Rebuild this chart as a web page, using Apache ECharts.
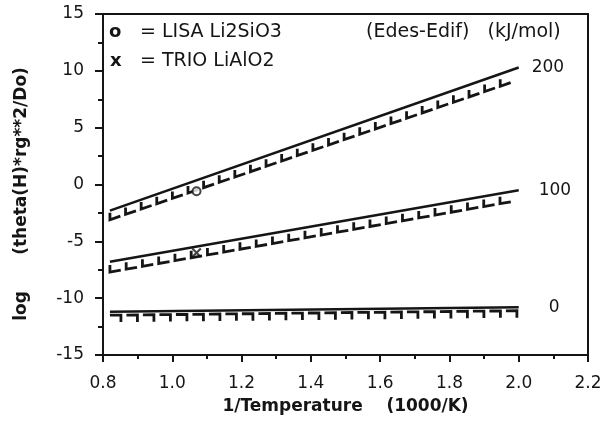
<!DOCTYPE html>
<html>
<head>
<meta charset="utf-8">
<script src="https://cdn.jsdelivr.net/npm/echarts@6/dist/echarts.min.js"></script>
<style>
  html, body { margin: 0; padding: 0; background: #fff; }
  #chart { width: 607px; height: 422px; }
</style>
</head>
<body>
<div id="chart"></div>
<script>
// solid lines (start, end) per Edes-Edif value
const energyLabels = ['200', '100', '0']
const labelGaps = [13, 20, 30]
const solidLines = [
  [[0.82, -2.3], [2.0, 10.3]],
  [[0.82, -6.8], [2.0, -0.5]],
  [[0.82, -11.2], [2.0, -10.8]]
]
// hooked dashed lines: x0, y0, x1, y1, hook direction (1 = up, -1 = down)
const hookedLines = [
  [0.82, -3.1, 2.0, 9.2, 1],
  [0.82, -7.7, 2.0, -1.4, 1],
  [0.82, -11.5, 2.0, -11.1, -1]
]
const lisaPoints = [[1.07, -0.6]]
const trioPoints = [[1.07, -6.0]]
const xTicks = { min: 0.8, max: 2.2, interval: 0.2, minor: 0.1 }
const yTicks = { min: -15, max: 15, interval: 5, minor: 2.5 }

const ink = '#151515'
const font = '"DejaVu Sans", Verdana, sans-serif'

let chart = echarts.init(document.getElementById('chart'), null, { renderer: 'canvas' })

let series = []
solidLines.forEach((pts, i) => {
  series.push({
    type: 'line',
    data: pts,
    symbol: 'none',
    silent: true,
    lineStyle: { color: ink, width: 2.6 },
    endLabel: {
      show: true,
      formatter: energyLabels[i],
      color: ink,
      fontFamily: font,
      fontSize: 17,
      distance: labelGaps[i]
    }
  })
})

series.push({
  type: 'custom',
  data: hookedLines,
  silent: true,
  renderItem: (params, api) => {
    let a = api.coord([api.value(0), api.value(1)])
    let b = api.coord([api.value(2), api.value(3)])
    let dir = api.value(4)
    let dx = b[0] - a[0], dy = b[1] - a[1]
    let len = Math.sqrt(dx * dx + dy * dy)
    let ux = dx / len, uy = dy / len
    let step = 16.5, bar = 11, hook = 7
    let children = []
    for (let t = 0; t + bar <= len; t += step) {
      let p0 = [a[0] + ux * t, a[1] + uy * t]
      let p1 = [a[0] + ux * (t + bar), a[1] + uy * (t + bar)]
      let pts = dir > 0
        ? [[p0[0], p0[1] - hook], p0, p1]
        : [p0, p1, [p1[0], p1[1] + hook]]
      children.push({
        type: 'polyline',
        shape: { points: pts },
        style: { stroke: ink, lineWidth: 2.8, fill: null }
      })
    }
    return { type: 'group', children: children }
  }
})

series.push({
  type: 'scatter',
  data: lisaPoints,
  symbol: 'emptyCircle',
  symbolSize: 8,
  itemStyle: { color: ink, borderColor: ink, borderWidth: 2 }
})
series.push({
  type: 'scatter',
  data: trioPoints,
  symbol: 'path://M0,1.5 L1.5,0 L5,3.5 L8.5,0 L10,1.5 L6.5,5 L10,8.5 L8.5,10 L5,6.5 L1.5,10 L0,8.5 L3.5,5 Z',
  symbolSize: 10,
  itemStyle: { color: ink }
})

// extra axes only carry the short minor ticks
const hiddenAxis = {
  type: 'value',
  axisLine: { show: false, onZero: false },
  axisLabel: { show: false },
  splitLine: { show: false }
}

let option = {
  backgroundColor: '#fff',
  animation: false,
  grid: {
    left: 103, right: 19, top: 14, bottom: 67,
    show: true, borderColor: ink, borderWidth: 2
  },
  xAxis: [{
    type: 'value',
    min: xTicks.min, max: xTicks.max, interval: xTicks.interval,
    name: '1/Temperature    (1000/K)',
    nameLocation: 'middle',
    nameGap: 43,
    nameTextStyle: { color: ink, fontFamily: font, fontSize: 17, fontWeight: 'bold' },
    axisLine: { show: true, onZero: false, lineStyle: { color: ink, width: 2 } },
    axisTick: { show: true, inside: false, length: 7, lineStyle: { color: ink, width: 2 } },
    splitLine: { show: false },
    axisLabel: {
      color: ink, fontFamily: font, fontSize: 17, margin: 20,
      formatter: v => v.toFixed(1)
    }
  }, Object.assign({}, hiddenAxis, {
    position: 'bottom',
    min: xTicks.min, max: xTicks.max, interval: xTicks.minor,
    axisTick: { show: true, inside: false, length: 4, lineStyle: { color: ink, width: 2 } }
  })],
  yAxis: [{
    type: 'value',
    min: yTicks.min, max: yTicks.max, interval: yTicks.interval,
    axisLine: { show: true, onZero: false, lineStyle: { color: ink, width: 2 } },
    axisTick: { show: true, inside: false, length: 8, lineStyle: { color: ink, width: 2 } },
    splitLine: { show: false },
    axisLabel: { color: ink, fontFamily: font, fontSize: 17, margin: 19 }
  }, Object.assign({}, hiddenAxis, {
    position: 'left',
    min: yTicks.min, max: yTicks.max, interval: yTicks.minor,
    axisTick: { show: true, inside: false, length: 5, lineStyle: { color: ink, width: 2 } }
  })],
  graphic: [
    {
      type: 'text', x: 13, y: 161, rotation: Math.PI / 2,
      style: {
        text: '(theta(H)*rg**2/Do)', align: 'center', verticalAlign: 'top',
        fill: ink, font: 'bold 17px ' + font
      }
    },
    {
      type: 'text', x: 13, y: 306, rotation: Math.PI / 2,
      style: {
        text: 'log', align: 'center', verticalAlign: 'top',
        fill: ink, font: 'bold 17px ' + font
      }
    },
    { type: 'text', x: 109, y: 23, style: { text: 'o', fill: ink, font: 'bold 18px ' + font } },
    { type: 'text', x: 140, y: 23, style: { text: '= LISA Li2SiO3', fill: ink, font: '19px ' + font } },
    { type: 'text', x: 110, y: 52, style: { text: 'x', fill: ink, font: 'bold 18px ' + font } },
    { type: 'text', x: 140, y: 52, style: { text: '= TRIO LiAlO2', fill: ink, font: '19px ' + font } },
    { type: 'text', x: 366, y: 23, style: { text: '(Edes-Edif)   (kJ/mol)', fill: ink, font: '19px ' + font } }
  ],
  series: series
}

chart.setOption(option)
</script>
</body>
</html>
